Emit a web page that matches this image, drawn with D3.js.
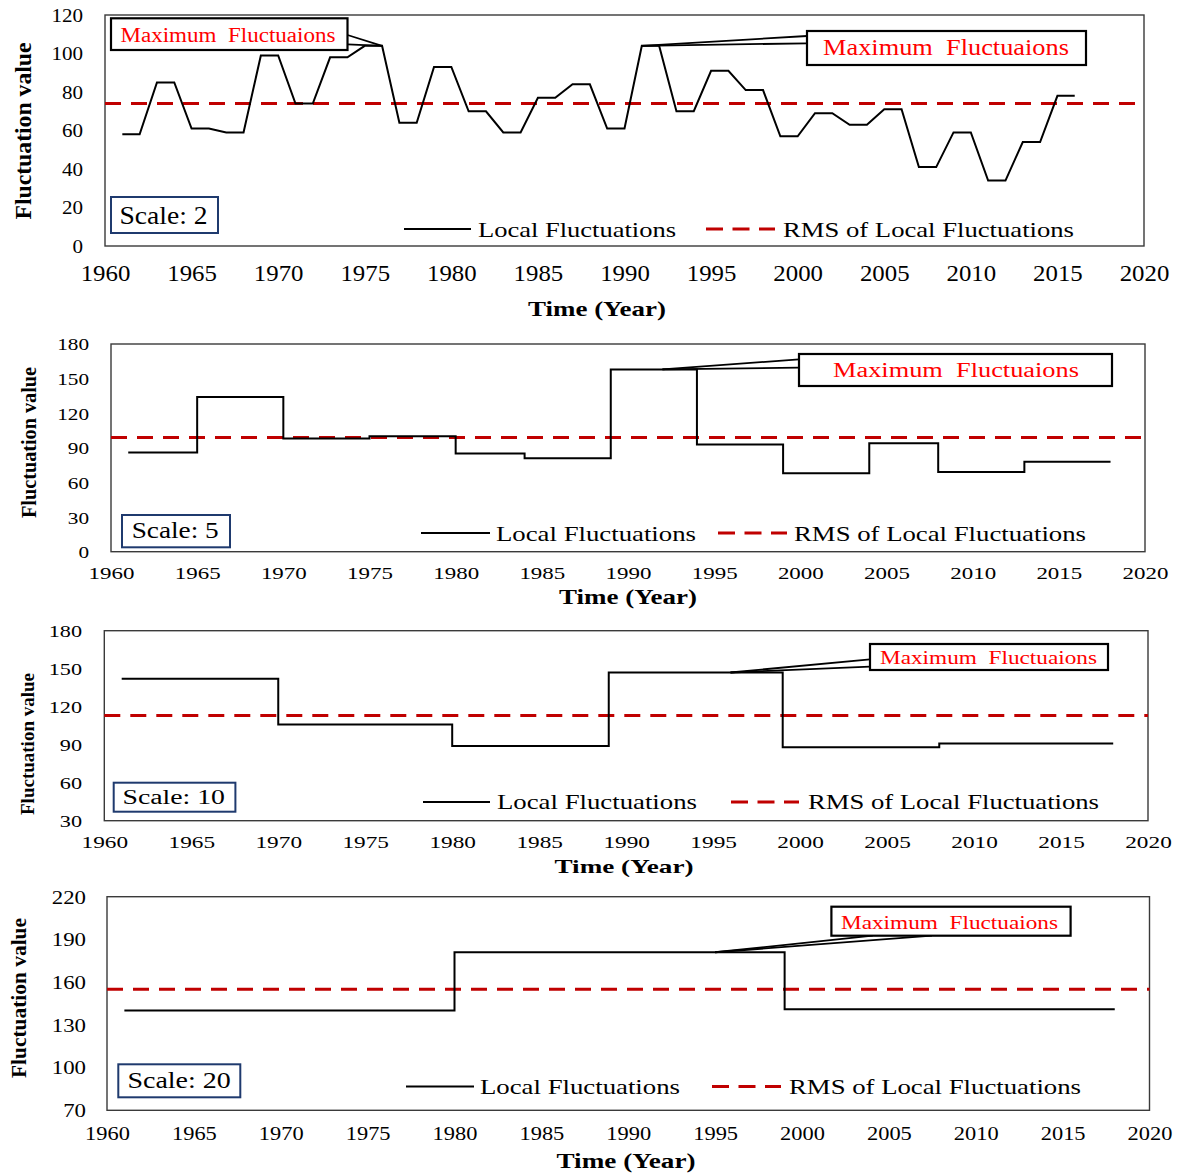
<!DOCTYPE html>
<html><head><meta charset="utf-8">
<script src="https://cdn.jsdelivr.net/npm/d3@7"></script>
<style>
body{margin:0;background:#fff;}
svg{display:block;font-family:"Liberation Serif","Times New Roman",serif;}
</style></head><body>
<svg id="chart" width="1177" height="1173"></svg>
<script>
// ---------------- DATA ----------------
const xTickValues = [1960, 1965, 1970, 1975, 1980, 1985, 1990, 1995, 2000, 2005, 2010, 2015, 2020];

// Scale 2 : yearly local fluctuations
const scale2Years = [1961,1962,1963,1964,1965,1966,1967,1968,1969,1970,1971,1972,1973,1974,1975,1976,1977,1978,1979,1980,
  1981,1982,1983,1984,1985,1986,1987,1988,1989,1990,1991,1992,1993,1994,1995,1996,1997,1998,1999,2000,
  2001,2002,2003,2004,2005,2006,2007,2008,2009,2010,2011,2012,2013,2014,2015,2016];
const scale2Values = [58,58,85,85,61,61,59,59,99,99,74,74,98,98,104,104,64,64,93,93,
  70,70,59,59,77,77,84,84,61,61,104,104,70,70,91,91,81,81,57,57,
  69,69,63,63,71,71,41,41,59,59,34,34,54,54,78,78];
const scale2Rms = 74;
const yTicks2 = [0, 20, 40, 60, 80, 100, 120];

// Scale 5 : segment start years and values (step), ending 2018
const scale5Years = [1961,1965,1970,1975,1980,1984,1989,1994,1999,2004,2008,2013];
const scale5Values = [86,134,98,100,85,81,158,93,68,94,69,78];
const scale5End = 2018;
const scale5Rms = 99;
const yTicks5 = [0, 30, 60, 90, 120, 150, 180];

// Scale 10
const scale10Years = [1961,1970,1980,1989,1999,2008];
const scale10Values = [142,106,89,147,88,91];
const scale10End = 2018;
const scale10Rms = 113;
const yTicks10 = [30, 60, 90, 120, 150, 180];

// Scale 20
const scale20Years = [1961,1980,1999];
const scale20Values = [140,181,141];
const scale20End = 2018;
const scale20Rms = 155;
const yTicks20 = [70, 100, 130, 160, 190, 220];

// callout targets [year, value]
const peaks2 = [[1976, 104], [1991, 104]];
const peaks5 = [[1992, 158]];
const peaks10 = [[1996, 147]];
const peaks20 = [[1995, 181]];

const scaleLabels = ["Scale: 2", "Scale: 5", "Scale: 10", "Scale: 20"];
const seriesLabels = ["Local Fluctuations", "RMS of Local Fluctuations"];
const calloutText = "Maximum  Fluctuaions";
const xTitle = "Time (Year)";
const yTitle = "Fluctuation value";

// ---------------- BUILD SERIES ----------------
const series2 = scale2Years.map((yr, i) => [yr, scale2Values[i]]);
function stepSeries(years, values, end) {
  const pts = years.map((yr, i) => [yr, values[i]]);
  pts.push([end, values[values.length - 1]]);
  return pts;
}
const series5 = stepSeries(scale5Years, scale5Values, scale5End);
const series10 = stepSeries(scale10Years, scale10Values, scale10End);
const series20 = stepSeries(scale20Years, scale20Values, scale20End);

// ---------------- LAYOUT ----------------
const panels = [
  { series: series2, step: false, rms: scale2Rms, yDomain: [0, 120], yTicks: yTicks2, label: scaleLabels[0],
    left: 105, right: 1144, top: 15, bottom: 246,
    xfs: 23, xsx: 1.08, xBase: 281, yfs: 18, ysx: 1.17, yRight: 83,
    yTitle: { x: 31, y: 131, fs: 23, len: 177 }, xTitle: { x: 597, y: 316, fs: 22, len: 138 },
    legend: { y: 229, base: 236.7, fs: 22, l1: [404, 471], t1: 478, w1: 198, l2: [706, 775], t2: 783, w2: 291 },
    sbox: { x: 111, y: 197, w: 107, h: 36, tx: 119.5, ty: 224.3, fs: 25, len: 88 },
    callouts: [
      { peak: peaks2[0], box: [111, 18.3, 347.5, 50], tx: 120.5, ty: 41.7, fs: 20, len: 215, from: [[347.5, 35], [347.5, 44.3]] },
      { peak: peaks2[1], box: [807, 31, 1086, 65], tx: 823, ty: 55, fs: 23, len: 246, from: [[807, 36], [807, 43.3]] }
    ] },
  { series: series5, step: true, rms: scale5Rms, yDomain: [0, 180], yTicks: yTicks5, label: scaleLabels[1],
    left: 111, right: 1145, top: 344, bottom: 551.7,
    xfs: 17, xsx: 1.35, xBase: 579, yfs: 17, ysx: 1.25, yRight: 89,
    yTitle: { x: 36, y: 442.5, fs: 20, len: 151 }, xTitle: { x: 628, y: 604, fs: 20, len: 138 },
    legend: { y: 533, base: 540.7, fs: 22, l1: [421, 490], t1: 496, w1: 200, l2: [718, 787], t2: 794, w2: 292 },
    sbox: { x: 122, y: 515, w: 108, h: 32.3, tx: 131.7, ty: 538.3, fs: 22.5, len: 87 },
    callouts: [
      { peak: peaks5[0], box: [799, 354, 1112, 386], tx: 833, ty: 376.7, fs: 20, len: 246, from: [[799, 359.3], [799, 367.7]] }
    ] },
  { series: series10, step: true, rms: scale10Rms, yDomain: [30, 180], yTicks: yTicks10, label: scaleLabels[2],
    left: 104.3, right: 1148, top: 630.7, bottom: 820.7,
    xfs: 17, xsx: 1.37, xBase: 848, yfs: 16, ysx: 1.39, yRight: 82,
    yTitle: { x: 34.4, y: 744, fs: 19, len: 142 }, xTitle: { x: 624, y: 873, fs: 19, len: 139 },
    legend: { y: 802, base: 809, fs: 21, l1: [423, 490], t1: 497, w1: 200, l2: [731, 799], t2: 808, w2: 291 },
    sbox: { x: 113.7, y: 782.7, w: 121.7, h: 29, tx: 122.5, ty: 804, fs: 20, len: 102.5 },
    callouts: [
      { peak: peaks10[0], box: [870, 644, 1108, 670], tx: 880, ty: 664.3, fs: 18, len: 217, from: [[870, 659.3], [870, 666.7]] }
    ] },
  { series: series20, step: true, rms: scale20Rms, yDomain: [70, 220], yTicks: yTicks20, label: scaleLabels[3],
    left: 107, right: 1149.5, top: 896.7, bottom: 1110.3,
    xfs: 19, xsx: 1.18, xBase: 1140, yfs: 18, ysx: 1.27, yRight: 86,
    yTitle: { x: 26, y: 998, fs: 21, len: 160 }, xTitle: { x: 626, y: 1168, fs: 20, len: 139 },
    legend: { y: 1086.5, base: 1094, fs: 21.5, l1: [406, 474], t1: 480, w1: 200, l2: [712, 781], t2: 789, w2: 292 },
    sbox: { x: 118.3, y: 1064.3, w: 122, h: 33, tx: 127.4, ty: 1087.7, fs: 23, len: 103.4 },
    callouts: [
      { peak: peaks20[0], box: [831.4, 906.7, 1070.6, 935.7], tx: 841, ty: 929.3, fs: 19, len: 217, from: [[872.8, 935.7], [932, 935.7]] }
    ] }
];

const RED = "#c00000";
const svg = d3.select("#chart");
const FONT = '"Liberation Serif","Times New Roman",serif';

function drawPanel(p) {
  const g = svg.append("g");
  const x = d3.scaleLinear().domain([1960, 2020]).range([p.left, p.right]);
  const y = d3.scaleLinear().domain(p.yDomain).range([p.bottom, p.top]);

  // frame
  g.append("rect").attr("x", p.left).attr("y", p.top)
    .attr("width", p.right - p.left).attr("height", p.bottom - p.top)
    .attr("fill", "none").attr("stroke", "#3a3a3a").attr("stroke-width", 1.4);

  // x axis
  const xa = g.append("g").attr("transform", `translate(0,${p.bottom})`)
    .call(d3.axisBottom(x).tickValues(xTickValues).tickSize(0).tickFormat(d3.format("d")));
  xa.select(".domain").remove();
  xa.attr("font-family", FONT).attr("font-size", p.xfs).style("color", "#000");
  xa.selectAll("text").attr("y", p.xBase - p.bottom).attr("dy", 0)
    .attr("transform", `scale(${p.xsx},1)`);

  // y axis
  const ya = g.append("g").attr("transform", `translate(${p.left},0)`)
    .call(d3.axisLeft(y).tickValues(p.yTicks).tickSize(0).tickFormat(d3.format("d")));
  ya.select(".domain").remove();
  ya.attr("font-family", FONT).attr("font-size", p.yfs).style("color", "#000");
  ya.selectAll("text").attr("x", (p.yRight - p.left) / p.ysx).attr("dy", "0.35em")
    .attr("transform", `scale(${p.ysx},1)`);

  // titles
  g.append("text").attr("transform", `translate(${p.yTitle.x},${p.yTitle.y}) rotate(-90)`)
    .attr("text-anchor", "middle").attr("font-weight", "bold").attr("font-size", p.yTitle.fs)
    .attr("textLength", p.yTitle.len).attr("lengthAdjust", "spacingAndGlyphs").text(yTitle);
  g.append("text").attr("x", p.xTitle.x).attr("y", p.xTitle.y)
    .attr("text-anchor", "middle").attr("font-weight", "bold").attr("font-size", p.xTitle.fs)
    .attr("textLength", p.xTitle.len).attr("lengthAdjust", "spacingAndGlyphs").text(xTitle);

  // RMS line
  const line = d3.line().x(d => x(d[0])).y(d => y(d[1]));
  g.append("path").datum([[1960, p.rms], [2020, p.rms]]).attr("d", line)
    .attr("fill", "none").attr("stroke", RED).attr("stroke-width", 3).attr("stroke-dasharray", "16,10");

  // data line
  const dl = d3.line().x(d => x(d[0])).y(d => y(d[1]));
  if (p.step) dl.curve(d3.curveStepAfter);
  g.append("path").datum(p.series).attr("d", dl)
    .attr("fill", "none").attr("stroke", "#000").attr("stroke-width", 2).attr("stroke-linejoin", "miter");

  // legend
  const L = p.legend;
  g.append("line").attr("x1", L.l1[0]).attr("x2", L.l1[1]).attr("y1", L.y).attr("y2", L.y)
    .attr("stroke", "#000").attr("stroke-width", 2);
  g.append("text").attr("x", L.t1).attr("y", L.base).attr("font-size", L.fs)
    .attr("textLength", L.w1).attr("lengthAdjust", "spacingAndGlyphs").text(seriesLabels[0]);
  g.append("line").attr("x1", L.l2[0]).attr("x2", L.l2[1]).attr("y1", L.y).attr("y2", L.y)
    .attr("stroke", RED).attr("stroke-width", 3).attr("stroke-dasharray", "17,9.5");
  g.append("text").attr("x", L.t2).attr("y", L.base).attr("font-size", L.fs)
    .attr("textLength", L.w2).attr("lengthAdjust", "spacingAndGlyphs").text(seriesLabels[1]);

  // scale box
  const S = p.sbox;
  g.append("rect").attr("x", S.x).attr("y", S.y).attr("width", S.w).attr("height", S.h)
    .attr("fill", "#fff").attr("stroke", "#1f3a6e").attr("stroke-width", 2);
  g.append("text").attr("x", S.tx).attr("y", S.ty).attr("font-size", S.fs)
    .attr("textLength", S.len).attr("lengthAdjust", "spacingAndGlyphs").text(p.label);

  // callouts
  p.callouts.forEach(c => {
    const px = x(c.peak[0]), py = y(c.peak[1]);
    c.from.forEach(f => {
      g.append("line").attr("x1", f[0]).attr("y1", f[1]).attr("x2", px).attr("y2", py)
        .attr("stroke", "#000").attr("stroke-width", 1.8);
    });
    g.append("rect").attr("x", c.box[0]).attr("y", c.box[1])
      .attr("width", c.box[2] - c.box[0]).attr("height", c.box[3] - c.box[1])
      .attr("fill", "#fff").attr("stroke", "#000").attr("stroke-width", 2.2);
    g.append("text").attr("x", c.tx).attr("y", c.ty).attr("font-size", c.fs).attr("fill", "#ff0000")
      .attr("xml:space", "preserve").style("white-space", "pre")
      .attr("textLength", c.len).attr("lengthAdjust", "spacingAndGlyphs").text(calloutText);
  });
}

panels.forEach(drawPanel);
</script>
</body></html>
